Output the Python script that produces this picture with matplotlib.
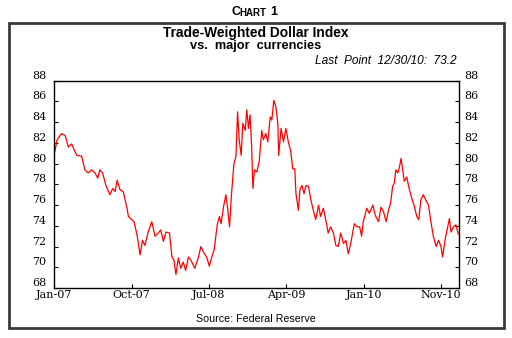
import matplotlib
matplotlib.use("Agg")
import matplotlib.pyplot as plt
from matplotlib.patches import Rectangle
from matplotlib.transforms import ScaledTranslation

# trading-day number (0 = first session of Jan-07) and index level
day = [1, 7, 18, 27, 35, 43, 51, 56, 68, 76, 84, 93, 101, 108, 113, 120,
       128, 138, 145, 151, 156, 163, 171, 180, 184, 192, 198, 206, 213, 219,
       225, 233, 242, 250, 258, 264, 271, 277, 286, 292, 297, 302, 308, 314,
       320, 326, 333, 339, 349, 358, 364, 370, 378, 385, 391, 397, 401, 405,
       410, 414, 420, 426, 430, 435, 440, 446, 451, 455, 459, 464, 468, 474,
       478, 482, 486, 490, 493, 497, 503, 509, 515, 519, 525, 530, 536, 540,
       545, 550, 555, 557, 563, 569, 575, 581, 587, 592, 597, 600, 606, 610,
       615, 620, 625, 631, 637, 643, 649, 656, 661, 668, 674, 680, 686, 693,
       699, 705, 711, 718, 724, 730, 736, 741, 745, 751, 758, 763, 767, 776,
       782, 791, 797, 805, 811, 817, 824, 829, 835, 840, 844, 848, 853, 857,
       861, 865, 869, 875, 881, 887, 893, 900, 905, 910, 916, 922, 929, 935,
       941, 948, 954, 960, 964, 970, 974, 981, 985, 991, 997, 1003]
level = [81.1, 82.3, 82.9, 82.7, 81.6, 81.9, 81.2, 80.8, 80.7, 79.4, 79.1,
         79.4, 79.1, 78.6, 79.4, 79.1, 77.9, 77.0, 77.6, 77.3, 78.4, 77.5,
         77.3, 75.8, 74.9, 74.6, 74.4, 73.0, 71.2, 72.6, 72.1, 73.4, 74.4,
         73.0, 73.3, 73.6, 72.5, 73.4, 73.3, 71.0, 70.7, 69.3, 70.9, 69.9,
         70.5, 69.7, 71.0, 70.7, 69.9, 71.0, 72.0, 71.5, 71.0, 70.1, 71.0,
         71.7, 73.0, 74.2, 74.9, 74.2, 75.8, 77.0, 75.8, 73.9, 77.1, 80.0,
         80.7, 85.0, 82.3, 80.8, 83.9, 83.2, 85.2, 83.4, 84.7, 81.6, 77.6,
         79.4, 79.2, 80.3, 83.2, 82.3, 82.9, 82.1, 84.5, 84.2, 86.1, 85.5,
         83.9, 80.8, 83.4, 82.1, 83.4, 82.1, 81.2, 79.5, 79.5, 77.1, 75.5,
         77.5, 77.9, 77.1, 77.9, 77.8, 76.5, 75.5, 74.6, 76.0, 74.9, 75.7,
         74.6, 73.3, 73.9, 73.3, 72.1, 72.0, 73.3, 72.3, 72.6, 71.3, 72.3,
         73.4, 74.2, 73.9, 73.9, 73.0, 74.4, 75.7, 75.2, 76.0, 75.0, 74.4,
         75.8, 75.4, 74.4, 75.4, 76.2, 77.8, 78.1, 79.4, 79.1, 79.7, 80.5,
         79.4, 78.3, 78.7, 77.6, 76.7, 76.0, 74.9, 74.6, 76.5, 77.0, 76.5,
         76.0, 74.4, 73.0, 72.0, 72.6, 72.0, 71.0, 72.6, 73.4, 74.7, 73.4,
         73.9, 74.1, 73.2]

tick_days = [0, 192, 384, 576, 768, 960]
tick_labels = ["Jan-07", "Oct-07", "Jul-08", "Apr-09", "Jan-10", "Nov-10"]
y_ticks = list(range(68, 89, 2))

fig = plt.figure(figsize=(5.12, 3.38), dpi=100)
fig.patch.set_facecolor("white")

# frame round the chart
fig.add_artist(Rectangle((8.5 / 512, 1 - 328 / 338), 495.5 / 512, 305 / 338,
                         transform=fig.transFigure, fill=False,
                         edgecolor="#3a3a3a", linewidth=2.0))

# small-caps heading
fig.text(231.5 / 512, 1 - 12 / 338, "C", fontsize=9, fontweight="bold",
         ha="left", va="center", family="Liberation Sans")
fig.text(239 / 512, 1 - 12.6 / 338, "HART", fontsize=7, fontweight="bold",
         ha="left", va="center", family="Liberation Sans")
fig.text(270 / 512, 1 - 12 / 338, "1", fontsize=9, fontweight="bold",
         ha="left", va="center", family="Liberation Sans")

fig.text(0.5, 1 - 33 / 338, "Trade-Weighted Dollar Index", fontsize=9.9,
         fontweight="bold", ha="center", va="center", family="Liberation Sans")
fig.text(0.5, 1 - 46 / 338, "vs.  major  currencies", fontsize=9.2,
         fontweight="bold", ha="center", va="center", family="Liberation Sans")
fig.text(457 / 512, 1 - 61 / 338, "Last  Point  12/30/10:  73.2", fontsize=8.6,
         style="italic", ha="right", va="center", family="Liberation Sans")
fig.text(0.5, 1 - 319 / 338, "Source: Federal Reserve", fontsize=7.7,
         ha="center", va="center", family="Liberation Sans")

ax = fig.add_axes([54.3 / 512, 1 - 288 / 338, 404.4 / 512, 207.3 / 338])
ax.plot(day, level, color="red", linewidth=0.9)

ax.set_xlim(0, 1004)
ax.set_ylim(68, 88)
ax.set_xticks(tick_days)
ax.set_xticklabels(tick_labels)
ax.set_yticks(y_ticks)
ax.tick_params(axis="both", direction="in", length=3, width=0.8,
               labelsize=8, pad=1.5)
ax.tick_params(axis="y", right=True, labelright=True, pad=5.5)
for lab in ax.get_xticklabels() + ax.get_yticklabels():
    lab.set_family("DejaVu Serif")
for t in ax.yaxis.get_major_ticks():
    t.label1.set_va("bottom")
    t.label2.set_va("bottom")
    t.label2.set_family("DejaVu Serif")
    # right-hand labels sit a little closer to the axis
    t.label2.set_transform(t.label2.get_transform()
                           + ScaledTranslation(-2.5 / 100, 0, fig.dpi_scale_trans))
for sp in ax.spines.values():
    sp.set_linewidth(1.0)

fig.savefig("out.png", dpi=100, facecolor="white")
